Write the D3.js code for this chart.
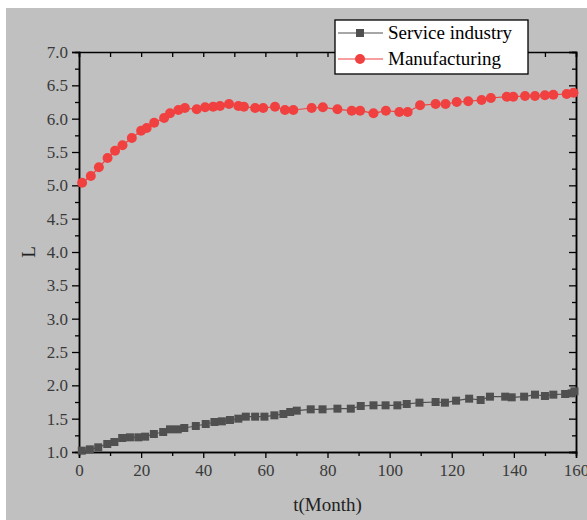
<!DOCTYPE html>
<html>
<head>
<meta charset="utf-8">
<script src="https://cdn.jsdelivr.net/npm/d3@7"></script>
<style>
  body { margin: 0; background: #fff; }
  svg { display: block; }
</style>
</head>
<body>
<div id="chart"></div>
<script>
// month values
const serviceT = [0.9, 3.5, 6.2, 9.1, 11.4, 13.9, 16.4, 19.1, 21.3, 24.1, 27.1, 29.3, 31.8, 33.9, 37.6, 40.8, 43.6, 46, 48.6, 51.3, 53.7, 56.7, 59.7, 62.9, 65.8, 68, 70.1, 74.6, 78.4, 83.2, 87.5, 90.7, 94.8, 98.7, 102.5, 105.5, 109.6, 114.8, 117.8, 121.4, 125.6, 129.3, 132.3, 137.2, 139.3, 143.3, 146.8, 150, 152.7, 156.5, 158.6, 159.5]
const serviceL = [1.02, 1.04, 1.07, 1.12, 1.15, 1.21, 1.22, 1.22, 1.23, 1.27, 1.30, 1.34, 1.34, 1.36, 1.39, 1.42, 1.45, 1.46, 1.48, 1.50, 1.53, 1.53, 1.53, 1.55, 1.57, 1.60, 1.62, 1.64, 1.64, 1.65, 1.65, 1.69, 1.70, 1.70, 1.70, 1.72, 1.74, 1.75, 1.74, 1.77, 1.80, 1.78, 1.83, 1.83, 1.82, 1.83, 1.86, 1.84, 1.86, 1.87, 1.88, 1.91]

const manuT = [1, 3.8, 6.4, 9.2, 11.6, 14, 17, 20, 21.8, 24.2, 27.4, 29.3, 32, 34.1, 37.9, 40.6, 43.2, 45.4, 48.3, 51.3, 53.1, 56.7, 59.3, 63.1, 66.3, 69, 74.9, 78.5, 83.2, 87.8, 90.5, 94.8, 98.8, 103.1, 105.8, 109.8, 114.8, 118, 121.6, 125.3, 129.6, 132.6, 137.7, 139.8, 143.6, 146.8, 150, 152.7, 157, 159.2]
const manuL = [5.04, 5.14, 5.27, 5.41, 5.52, 5.60, 5.71, 5.82, 5.86, 5.94, 6.01, 6.08, 6.13, 6.16, 6.14, 6.17, 6.18, 6.19, 6.22, 6.19, 6.18, 6.16, 6.16, 6.18, 6.13, 6.13, 6.16, 6.17, 6.14, 6.12, 6.12, 6.08, 6.12, 6.10, 6.10, 6.20, 6.22, 6.22, 6.25, 6.26, 6.28, 6.31, 6.33, 6.33, 6.34, 6.34, 6.35, 6.36, 6.37, 6.39]

const seriesNames = ["Service industry", "Manufacturing"]
const seriesColors = ["#505050", "#f04040"]
const xTicks = [0, 20, 40, 60, 80, 100, 120, 140, 160]
const yTicks = [1.0, 1.5, 2.0, 2.5, 3.0, 3.5, 4.0, 4.5, 5.0, 5.5, 6.0, 6.5, 7.0]

const width = 587, height = 520
const margin = { top: 52, right: 11, bottom: 68, left: 79 }
const innerW = width - margin.left - margin.right
const innerH = height - margin.top - margin.bottom
const serif = "'Liberation Serif', 'Times New Roman', serif"

const svg = d3.select("#chart").append("svg")
  .attr("width", width).attr("height", height)

// white strip top/left, gray page
svg.append("rect").attr("width", width).attr("height", height).attr("fill", "#fff")
svg.append("rect").attr("x", 6).attr("y", 8).attr("width", width - 6).attr("height", height - 8).attr("fill", "#c0c0c0")

const g = svg.append("g").attr("transform", `translate(${margin.left},${margin.top})`)

const x = d3.scaleLinear().domain([0, 160]).range([0, innerW])
const y = d3.scaleLinear().domain([1, 7]).range([innerH, 0])

const xMinor = d3.range(10, 160, 20)
const yMinor = d3.range(1.25, 7, 0.5)

// bottom axis
g.append("g").attr("transform", `translate(0,${innerH})`)
  .call(d3.axisBottom(x).tickValues(xTicks).tickFormat(d3.format("d")).tickSize(6).tickPadding(6))
g.append("g").attr("transform", `translate(0,${innerH})`)
  .call(d3.axisBottom(x).tickValues(xMinor).tickFormat("").tickSize(4))
// top axis, ticks inward
g.append("g")
  .call(d3.axisTop(x).tickValues(xTicks.concat(xMinor)).tickFormat("").tickSize(-5))
// left axis
g.append("g")
  .call(d3.axisLeft(y).tickValues(yTicks).tickFormat(d3.format(".1f")).tickSize(7).tickPadding(4))
g.append("g")
  .call(d3.axisLeft(y).tickValues(yMinor).tickFormat("").tickSize(4))
// right axis, ticks inward
g.append("g").attr("transform", `translate(${innerW},0)`)
  .call(d3.axisRight(y).tickValues(yTicks).tickFormat("").tickSize(-7))
g.append("g").attr("transform", `translate(${innerW},0)`)
  .call(d3.axisRight(y).tickValues(yMinor).tickFormat("").tickSize(-4))

g.selectAll(".domain").attr("stroke", "#000").attr("stroke-width", 1.5)
g.selectAll(".tick line").attr("stroke", "#000").attr("stroke-width", 1.3)
g.selectAll(".tick text")
  .style("font-family", serif).style("font-size", "17px").attr("fill", "#3a3a3a")

const line = d3.line().x(d => x(d[0])).y(d => y(d[1]))

const service = d3.zip(serviceT, serviceL)
const manu = d3.zip(manuT, manuL)

g.append("path").datum(service).attr("fill", "none").attr("stroke", seriesColors[0]).attr("stroke-width", 1.2).attr("d", line)
g.selectAll(".sq").data(service).join("rect")
  .attr("x", d => x(d[0]) - 4).attr("y", d => y(d[1]) - 4)
  .attr("width", 8).attr("height", 8).attr("fill", seriesColors[0])

g.append("path").datum(manu).attr("fill", "none").attr("stroke", seriesColors[1]).attr("stroke-width", 1.2).attr("d", line)
g.selectAll(".dot").data(manu).join("circle")
  .attr("cx", d => x(d[0])).attr("cy", d => y(d[1]))
  .attr("r", 5).attr("fill", seriesColors[1])

// axis titles
svg.append("text")
  .attr("x", margin.left + innerW / 2).attr("y", 511)
  .attr("text-anchor", "middle")
  .style("font-family", serif).style("font-size", "19px").attr("fill", "#222")
  .text("t(Month)")
svg.append("text")
  .attr("transform", `translate(35,${margin.top + innerH / 2}) rotate(-90)`)
  .attr("text-anchor", "middle")
  .style("font-family", serif).style("font-size", "19px").attr("fill", "#222")
  .text("L")

// legend
const lg = svg.append("g").attr("transform", "translate(335,20)")
lg.append("rect").attr("width", 193).attr("height", 54).attr("fill", "#fff").attr("stroke", "#000").attr("stroke-width", 1.3)
seriesNames.forEach((name, i) => {
  const yy = 13 + i * 26
  lg.append("line").attr("x1", 3).attr("x2", 48).attr("y1", yy).attr("y2", yy)
    .attr("stroke", seriesColors[i]).attr("stroke-width", 1.2)
  if (i === 0) {
    lg.append("rect").attr("x", 21).attr("y", yy - 4).attr("width", 8).attr("height", 8).attr("fill", seriesColors[i])
  } else {
    lg.append("circle").attr("cx", 25).attr("cy", yy).attr("r", 5).attr("fill", seriesColors[i])
  }
  lg.append("text").attr("x", 53).attr("y", yy + 6)
    .style("font-family", serif).style("font-size", "19px").attr("fill", "#000")
    .text(name)
})
</script>
</body>
</html>
